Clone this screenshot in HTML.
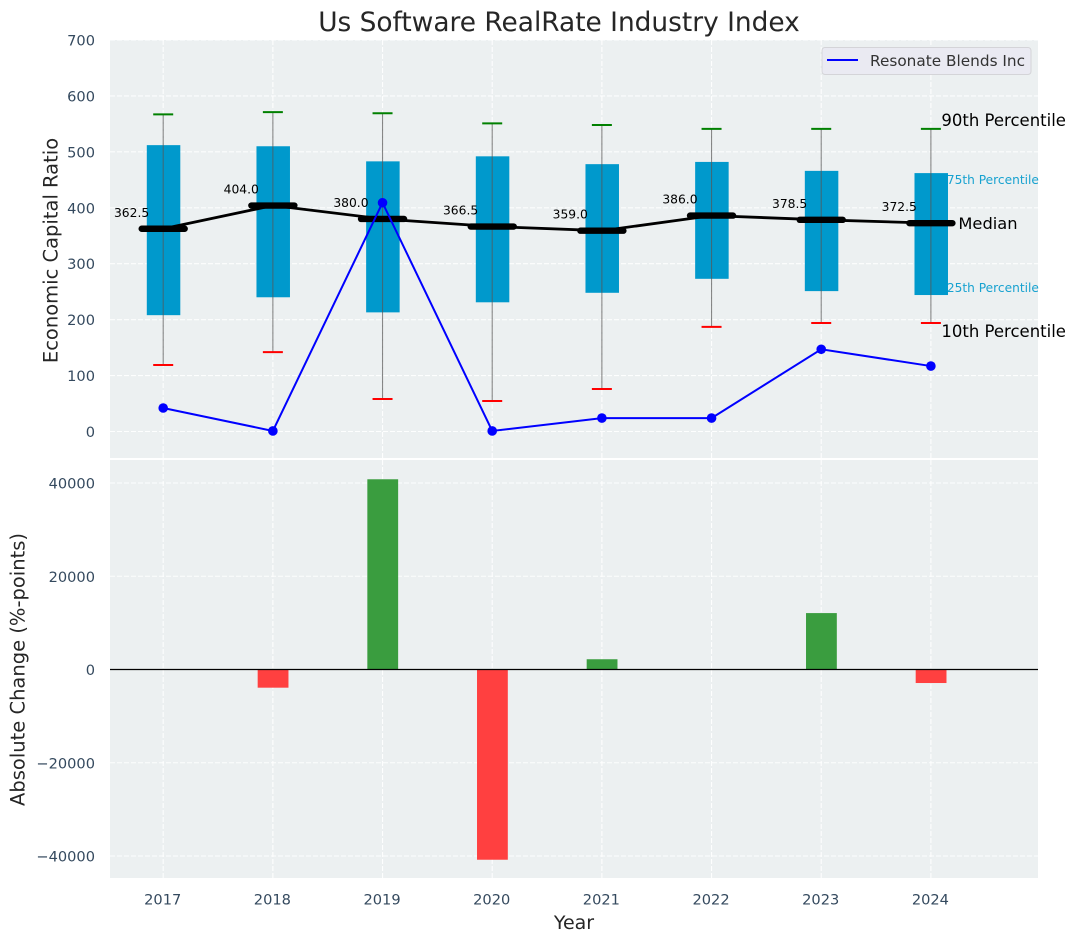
<!DOCTYPE html>
<html lang="en">
<head>
<meta charset="utf-8">
<title>Us Software RealRate Industry Index</title>
<style>
html,body{margin:0;padding:0;background:#fff;width:1076px;height:942px;overflow:hidden}
svg{display:block;font-family:"DejaVu Sans","Liberation Sans",sans-serif}
</style>
</head>
<body>
<svg id="chart" width="1076" height="942" viewBox="0 0 1076 942" xmlns="http://www.w3.org/2000/svg">
  <rect x="110" y="40" width="928" height="418" fill="#ecf0f1"/>
  <rect x="110" y="460" width="928" height="418" fill="#ecf0f1"/>
  <text x="559" y="31" font-size="26.4" fill="#262626" text-anchor="middle">Us Software RealRate Industry Index</text>
  <text transform="translate(57.5,250.5) rotate(-90)" font-size="19.5" fill="#262626" text-anchor="middle">Economic Capital Ratio</text>
  <text transform="translate(24.5,669.5) rotate(-90)" font-size="19.5" fill="#262626" text-anchor="middle">Absolute Change (%-points)</text>
  <text x="574" y="929" font-size="19" fill="#262626" text-anchor="middle">Year</text>
  <g id="grid"></g>
  <g id="ticks"></g>
  <g id="marks"></g>
  <g>
    <rect x="822" y="47.5" width="209" height="27" rx="3" fill="#eaeaf2" stroke="#d4d4d8" stroke-width="1"/>
    <line x1="827" y1="60" x2="858" y2="60" stroke="#0000ff" stroke-width="2"/>
    <text x="870" y="66" font-size="15.3" fill="#333">Resonate Blends Inc</text>
  </g>
</svg>
<script>
var years = [2017, 2018, 2019, 2020, 2021, 2022, 2023, 2024];
var p90 = [567, 571, 569, 551, 548, 541, 541, 541];
var p75 = [512, 510, 483, 492, 478, 482, 466, 462];
var medians = [362.5, 404.0, 380.0, 366.5, 359.0, 386.0, 378.5, 372.5];
var p25 = [208, 240, 213, 231, 248, 273, 251, 244];
var p10 = [119, 142, 58, 54.5, 76, 187, 194, 194];
var company = [42, 1, 409, 1, 24, 24, 147, 117];
var changes = [0, -3900, 40800, -40800, 2200, 0, 12100, -2900];
var topTicks = [0, 100, 200, 300, 400, 500, 600, 700];
var bottomTicks = [-40000, -20000, 0, 20000, 40000];

var NS = 'http://www.w3.org/2000/svg';
function xPos(v) { return 163.2 + (v - 2017) * 109.67; }
function yTop(v) { return 431.5 - v * 0.5593; }
function yBottom(v) { return 669.5 - v * 0.0046625; }
function make(parent, tag, attrs, txt) {
  var el = document.createElementNS(NS, tag);
  for (var k in attrs) { el.setAttribute(k, attrs[k]); }
  if (txt !== undefined) { el.textContent = txt; }
  parent.appendChild(el);
  return el;
}
var grid = document.getElementById('grid');
var ticks = document.getElementById('ticks');
var marks = document.getElementById('marks');
var gridStyle = { stroke: '#ffffff', 'stroke-width': 1.1, 'stroke-dasharray': '5 2', 'stroke-opacity': 0.9 };
function gridLine(x1, y1, x2, y2) {
  var a = { x1: x1, y1: y1, x2: x2, y2: y2 };
  for (var k in gridStyle) { a[k] = gridStyle[k]; }
  return make(grid, 'line', a);
}
function fmt(v) { return (v < 0 ? '\u2212' : '') + Math.abs(v); }

years.forEach(function (yr) {
  var x = xPos(yr);
  var g1 = gridLine(x, 40, x, 458);
  
  
  var g2 = gridLine(x, 460, x, 878);
  
  
  var t = make(ticks, 'text', { x: x - 0.5, y: 904.5, 'font-size': 14.6, fill: '#34495e', 'text-anchor': 'middle' }, String(yr));
  
  
});
topTicks.forEach(function (v) {
  var y = yTop(v);
  var g = gridLine(110, y, 1038, y);
  
  
  var t = make(ticks, 'text', { x: 95, y: y + 5.5, 'font-size': 14.6, fill: '#34495e', 'text-anchor': 'end' }, fmt(v));
  
  
});
bottomTicks.forEach(function (v) {
  var y = yBottom(v);
  var g = gridLine(110, y, 1038, y);
  
  
  var t = make(ticks, 'text', { x: 95, y: y + 5.5, 'font-size': 14.6, fill: '#34495e', 'text-anchor': 'end' }, fmt(v));
  
  
});

/* percentile boxes */
years.forEach(function (yr, i) {
  var x = xPos(yr);
  var box = make(marks, 'rect', { x: x - 16.4, y: yTop(p75[i]), width: 33.5, height: yTop(p25[i]) - yTop(p75[i]), fill: '#0099cc' });
  
  
  var wh = make(marks, 'line', { x1: x, y1: yTop(p90[i]), x2: x, y2: yTop(p10[i]), stroke: '#555555', 'stroke-width': 1.1, 'stroke-opacity': 0.7 });
  
  
  var hi = make(marks, 'line', { x1: x - 10, y1: yTop(p90[i]), x2: x + 10, y2: yTop(p90[i]), stroke: '#008000', 'stroke-width': 2 });
  
  
  var lo = make(marks, 'line', { x1: x - 10, y1: yTop(p10[i]), x2: x + 10, y2: yTop(p10[i]), stroke: '#ff0000', 'stroke-width': 2 });
  
  
});

/* median line */
var medPts = years.map(function (yr, i) { return xPos(yr) + ',' + yTop(medians[i]); }).join(' ');
var medLine = make(marks, 'polyline', { points: medPts, fill: 'none', stroke: '#000000', 'stroke-width': 2.8 });


years.forEach(function (yr, i) {
  var x = xPos(yr), y = yTop(medians[i]);
  var bar = make(marks, 'line', { x1: x - 21.5, y1: y, x2: x + 21.5, y2: y, stroke: '#000000', 'stroke-width': 6.4, 'stroke-linecap': 'round' });
  
  
  var lab = make(marks, 'text', { x: x - 14, y: y - 12, 'font-size': 12.3, fill: '#000000', 'text-anchor': 'end' }, medians[i].toFixed(1));
  
  
});

/* company series */
var compPts = years.map(function (yr, i) { return xPos(yr) + ',' + yTop(company[i]); }).join(' ');
var compLine = make(marks, 'polyline', { points: compPts, fill: 'none', stroke: '#0000ff', 'stroke-width': 2 });


years.forEach(function (yr, i) {
  var pt = make(marks, 'circle', { cx: xPos(yr), cy: yTop(company[i]), r: 4.8, fill: '#0000ff' });
  
  
});

/* change bars */
years.forEach(function (yr, i) {
  var v = changes[i];
  if (v === 0) { return; }
  var y0 = yBottom(0), y1 = yBottom(v);
  var b = make(marks, 'rect', { x: xPos(yr) - 15.2, y: Math.min(y0, y1), width: 30.8, height: Math.abs(y1 - y0), fill: v > 0 ? '#3a9d3f' : '#ff4040' });
  
  
});
var zero = make(marks, 'line', { x1: 110, y1: yBottom(0), x2: 1038, y2: yBottom(0), stroke: '#000000', 'stroke-width': 1.3 });



/* percentile annotations next to the last year */
var last = years.length - 1;
var lastX = xPos(years[last]);
var a90 = make(marks, 'text', { x: lastX + 10.5, y: yTop(p90[last]) - 3, 'font-size': 16.5, fill: '#000000' }, '90th Percentile');


var a75 = make(marks, 'text', { x: lastX + 16, y: yTop(p75[last]) + 11, 'font-size': 12.2, fill: '#0099cc', 'fill-opacity': 0.9 }, '75th Percentile');


var aMed = make(marks, 'text', { x: lastX + 27.5, y: yTop(medians[last]) + 6, 'font-size': 16.3, fill: '#000000' }, 'Median');


var a25 = make(marks, 'text', { x: lastX + 16, y: yTop(p25[last]) - 3, 'font-size': 12.2, fill: '#0099cc', 'fill-opacity': 0.9 }, '25th Percentile');


var a10 = make(marks, 'text', { x: lastX + 10.5, y: yTop(p10[last]) + 14, 'font-size': 16.5, fill: '#000000' }, '10th Percentile');


</script>
</body>
</html>
